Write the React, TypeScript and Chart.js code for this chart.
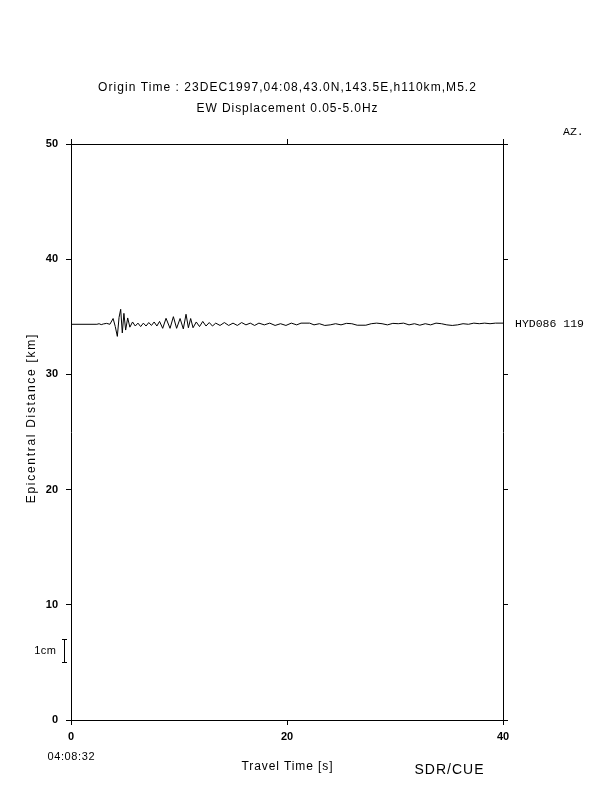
import React, { useEffect, useRef } from "react";
import { Chart, registerables } from "chart.js";

Chart.register(...registerables);

// ---- data ----
const titleLine1 = "Origin Time : 23DEC1997,04:08,43.0N,143.5E,h110km,M5.2";
const titleLine2 = "EW Displacement 0.05-5.0Hz";
const xAxisTitle = "Travel Time [s]";
const yAxisTitle = "Epicentral Distance [km]";
const startClock = "04:08:32";
const agency = "SDR/CUE";
const azHeader = "AZ.";
const stationLabel = "HYD086 119";
const stationDistance = 34.35; // km
const scaleBarLabel = "1cm";
const scaleBarFrom = 5; // axis units
const scaleBarTo = 7;

const xMin = 0;
const xMax = 40;
const xStep = 20;
const yMin = 0;
const yMax = 50;
const yStep = 10;

// travel time [s]
const traceTime = [
  0, 2.4, 2.6, 2.8, 3.0, 3.3, 3.6, 3.9, 4.1, 4.29, 4.45, 4.6, 4.75, 4.9, 5.06, 5.25,
  5.45, 5.7, 5.95, 6.2, 6.45, 6.7, 6.95, 7.2, 7.45, 7.7, 7.95, 8.2, 8.49, 8.8, 9.17,
  9.48, 9.78, 10.1, 10.4, 10.65, 10.87, 11.08, 11.3, 11.6, 11.9, 12.2, 12.5, 12.8,
  13.1, 13.4, 13.8, 14.2, 14.6, 15.0, 15.4, 15.8, 16.2, 16.6, 17.0, 17.4, 17.9,
  18.4, 18.9, 19.4, 19.9, 20.4, 20.9, 21.3, 22.1, 22.5, 23.0, 23.5, 24.0, 24.5,
  25.0, 25.5, 26.0, 26.5, 27.3, 27.8, 28.3, 28.8, 29.3, 29.8, 30.3, 30.8, 31.3,
  31.8, 32.3, 32.8, 33.3, 33.8, 34.3, 34.8, 35.3, 35.8, 36.3, 36.8, 37.3, 37.8,
  38.3, 38.8, 39.3, 40,
];
// trace deflection in axis units (km), relative to station distance
const traceOffset = [
  0, 0, 0.05, -0.03, 0.03, 0.08, 0.0, 0.5, -0.2, -1.05, 0.6, 1.3, -0.75, 0.95, -0.5, 0.55,
  -0.25, 0.2, -0.15, 0.1, -0.2, 0.1, -0.15, 0.15, -0.1, 0.2, -0.15, 0.25, -0.35, 0.52, -0.35,
  0.66, -0.35, 0.5, -0.4, 0.87, -0.3, 0.5, -0.3, 0.2, -0.2, 0.25, -0.15, 0.15,
  -0.15, 0.1, -0.1, 0.15, -0.1, 0.1, -0.1, 0.15, -0.05, 0.1, -0.1, 0.1, -0.05,
  0.1, -0.1, 0.05, -0.1, 0.1, -0.05, 0.1, 0.1, -0.05, 0.05, -0.1, -0.05, 0.05,
  -0.05, 0.08, 0.05, -0.08, -0.08, 0.05, 0.1, 0.05, -0.05, 0.08, 0.05, 0.1, -0.05,
  0.05, -0.08, 0.05, -0.05, 0.1, 0.05, -0.05, -0.1, -0.05, 0.05, 0.0, 0.1, 0.05,
  0.1, 0.05, 0.1, 0.1,
];

const SANS = "'Liberation Sans', Arial, sans-serif";
const MONO = "'Liberation Mono', 'DejaVu Sans Mono', monospace";

function spacedText(ctx: any, text: string, x: number, y: number, spacing: number) {
  ctx.letterSpacing = `${spacing}px`;
  const w = ctx.measureText(text).width;
  const prevAlign = ctx.textAlign;
  let left = x;
  if (prevAlign === "center") left = x - (w - spacing) / 2;
  else if (prevAlign === "right") left = x - (w - spacing);
  ctx.textAlign = "left";
  ctx.fillText(text, left, y);
  ctx.textAlign = prevAlign;
  ctx.letterSpacing = "0px";
}

const annotations = {
  id: "annotations",
  afterDraw(chart: any) {
    const ctx = chart.ctx as CanvasRenderingContext2D;
    const x = chart.scales.x;
    const y = chart.scales.y;
    const area = chart.chartArea;
    ctx.save();
    ctx.fillStyle = "#000";
    ctx.strokeStyle = "#000";
    ctx.textBaseline = "middle";

    // titles
    ctx.font = `12px ${SANS}`;
    ctx.textAlign = "center";
    const cx = (area.left + area.right) / 2;
    spacedText(ctx, titleLine1, cx, 88, 1.05);
    spacedText(ctx, titleLine2, cx, 109, 0.95);

    // AZ. header and station label
    ctx.font = `11.5px ${MONO}`;
    ctx.textAlign = "left";
    ctx.fillText(azHeader, 563, 132);
    ctx.fillText(stationLabel, 515, y.getPixelForValue(stationDistance));

    // y axis title
    ctx.save();
    ctx.font = `12px ${SANS}`;
    ctx.translate(32, 419);
    ctx.rotate(-Math.PI / 2);
    ctx.textAlign = "center";
    spacedText(ctx, yAxisTitle, 0, 0, 1.7);
    ctx.restore();

    // bottom texts
    ctx.font = `11px ${SANS}`;
    ctx.textAlign = "center";
    spacedText(ctx, startClock, x.getPixelForValue(xMin), 757, 0.6);
    ctx.font = `12px ${SANS}`;
    spacedText(ctx, xAxisTitle, cx, 767, 0.9);
    ctx.font = `14px ${SANS}`;
    spacedText(ctx, agency, 449, 770, 1);

    // 1cm scale bar
    const bx = 64.5;
    const b1 = Math.round(y.getPixelForValue(scaleBarFrom)) + 0.5;
    const b2 = Math.round(y.getPixelForValue(scaleBarTo)) + 0.5;
    ctx.lineWidth = 1;
    ctx.beginPath();
    ctx.moveTo(bx, b1);
    ctx.lineTo(bx, b2);
    ctx.moveTo(bx - 2.5, b1);
    ctx.lineTo(bx + 2.5, b1);
    ctx.moveTo(bx - 2.5, b2);
    ctx.lineTo(bx + 2.5, b2);
    ctx.stroke();
    ctx.font = `11px ${SANS}`;
    ctx.textAlign = "right";
    spacedText(ctx, scaleBarLabel, 56, (b1 + b2) / 2, 0.5);
    ctx.restore();
  },
};

const gridOpts = {
  drawOnChartArea: false,
  drawTicks: true,
  tickLength: 5,
  color: "#000",
  lineWidth: 1,
};
const borderOpts = { display: true, color: "#000", width: 1 };

export default function App() {
  const ref = useRef<HTMLCanvasElement | null>(null);
  useEffect(() => {
    if (!ref.current) return;
    const points = traceTime.map((t, i) => ({ x: t, y: stationDistance + traceOffset[i] }));
    const chart = new Chart(ref.current, {
      type: "line",
      data: {
        datasets: [
          {
            data: points,
            borderColor: "#000",
            borderWidth: 1,
            pointRadius: 0,
            tension: 0,
            fill: false,
          },
        ],
      },
      options: {
        animation: false,
        responsive: false,
        devicePixelRatio: 1,
        layout: { padding: 0 },
        plugins: { legend: { display: false }, tooltip: { enabled: false } },
        scales: {
          x: {
            type: "linear",
            position: "bottom",
            min: xMin,
            max: xMax,
            ticks: {
              stepSize: xStep,
              color: "#000",
              font: { family: SANS, size: 11, weight: "bold" },
              padding: 5,
              maxRotation: 0,
            },
            grid: gridOpts,
            border: borderOpts,
            afterFit: (s: any) => {
              s.height = 72;
            },
          },
          x2: {
            type: "linear",
            position: "top",
            min: xMin,
            max: xMax,
            ticks: { stepSize: xStep, display: false },
            grid: gridOpts,
            border: borderOpts,
            afterFit: (s: any) => {
              s.height = 144;
            },
          },
          y: {
            type: "linear",
            position: "left",
            min: yMin,
            max: yMax,
            ticks: {
              stepSize: yStep,
              color: "#000",
              font: { family: SANS, size: 11, weight: "bold" },
              padding: 8,
            },
            grid: gridOpts,
            border: borderOpts,
            afterFit: (s: any) => {
              s.width = 71;
            },
          },
          y2: {
            type: "linear",
            position: "right",
            min: yMin,
            max: yMax,
            ticks: { stepSize: yStep, display: false },
            grid: gridOpts,
            border: borderOpts,
            afterFit: (s: any) => {
              s.width = 109;
            },
          },
        },
      },
      plugins: [annotations],
    });
    return () => chart.destroy();
  }, []);
  return (
    <div style={{ position: "absolute", left: 0, top: 0, width: 612, height: 792, background: "#fff" }}>
      <canvas ref={ref} width={612} height={792} style={{ width: 612, height: 792 }} />
    </div>
  );
}
